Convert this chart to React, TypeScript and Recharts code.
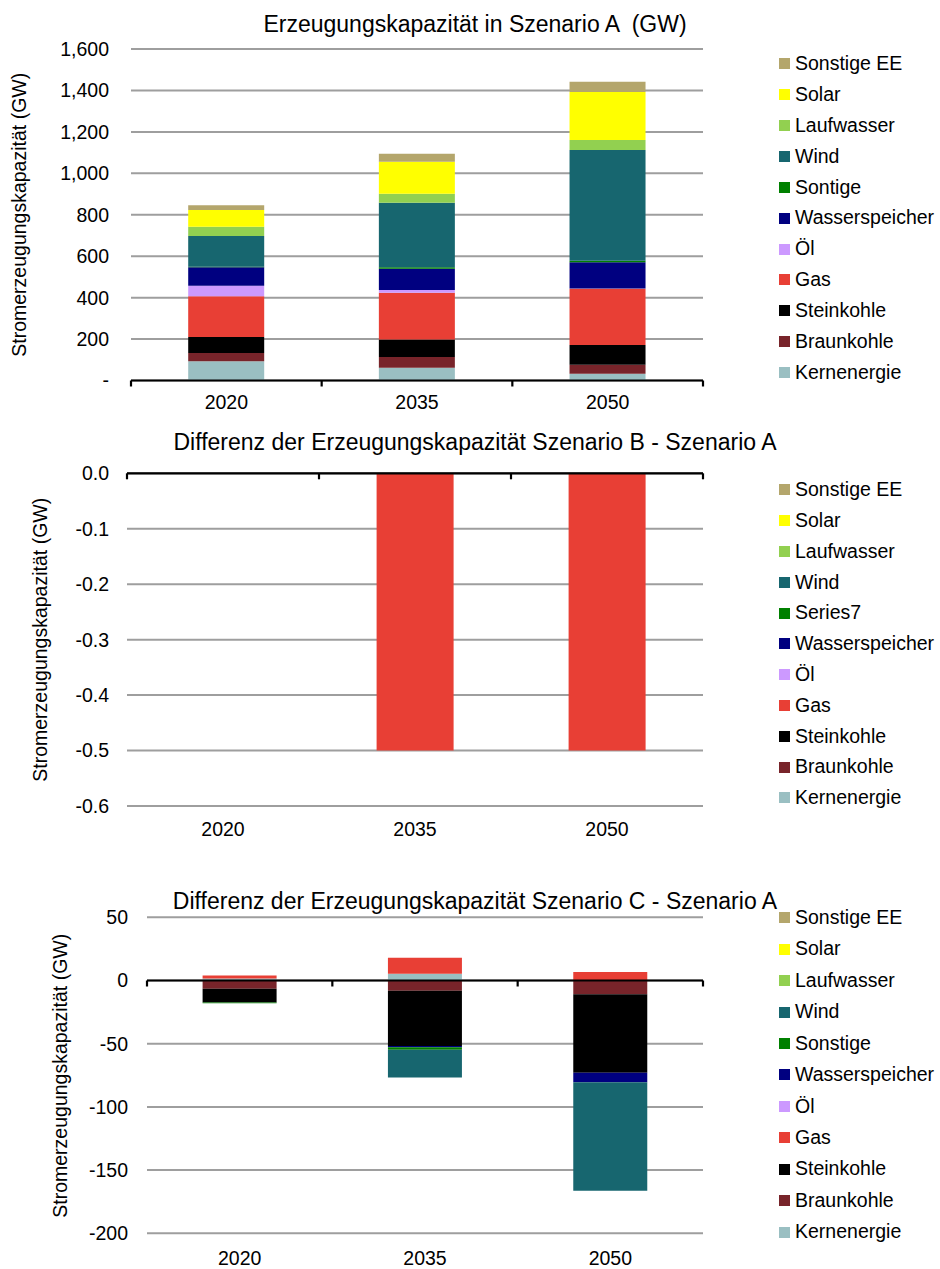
import React from "react";
import { Bar, BarChart, CartesianGrid, ReferenceLine, XAxis, YAxis } from "recharts";

const years = ["2020", "2035", "2050"];

// stacking order, bottom to top
const seriesKeys = ["kern", "braun", "stein", "gas", "oel", "wasser", "sontige", "wind", "lauf", "solar", "sonstEE"];
const seriesNames = ["Kernenergie", "Braunkohle", "Steinkohle", "Gas", "Öl", "Wasserspeicher", "Sontige", "Wind", "Laufwasser", "Solar", "Sonstige EE"];
const seriesColors = ["#9abfc2", "#78242a", "#000000", "#e83f35", "#cc99ff", "#000080", "#008000", "#17666f", "#92d050", "#ffff00", "#b4a66c"];
const otherLabels = ["Sontige", "Series7", "Sonstige"];

// Szenario A, GW
const capA2020 = [93, 40, 77, 197, 50, 90, 2, 149, 44, 81, 23];
const capA2035 = [62, 52, 84, 226, 13, 102, 8, 311, 43, 155, 39];
const capA2050 = [32, 44, 95, 272, 1, 127, 7, 534, 49, 232, 49];

// Szenario B - Szenario A
const diffB2020 = [0, 0, 0, 0, 0, 0, 0, 0, 0, 0, 0];
const diffB2035 = [0, 0, 0, -0.5, 0, 0, 0, 0, 0, 0, 0];
const diffB2050 = [0, 0, 0, -0.5, 0, 0, 0, 0, 0, 0, 0];

// Szenario C - Szenario A
const diffC2020 = [1.5, -6.6, -10.8, 2.4, 0, 0, -0.5, 0, 0, 0, 0];
const diffC2035 = [5.3, -8.2, -43.6, 12.6, 0, -1.1, -1.8, -22.1, 0, 0, 0];
const diffC2050 = [0, -10.8, -62.1, 6.8, 0, -7.6, 0, -85.8, 0, 0, 0];

const ticksA = [0, 200, 400, 600, 800, 1000, 1200, 1400, 1600];
const ticksB = [-0.6, -0.5, -0.4, -0.3, -0.2, -0.1, 0];
const ticksC = [-200, -150, -100, -50, 0, 50];

const FONT = '"Liberation Sans", Arial, sans-serif';
const FS = 19.5;

function buildRows(cols: number[][]) {
  return years.map((year, i) => {
    const row: Record<string, any> = { year };
    seriesKeys.forEach((k, j) => (row[k] = cols[i][j]));
    return row;
  });
}

// zero line with tick marks on the category boundaries
const ZeroAxis = (props: any) => {
  const { x1, x2, y1 } = props;
  const step = (x2 - x1) / years.length;
  return (
    <g>
      <line x1={x1} x2={x2} y1={y1} y2={y1} stroke="#000" strokeWidth={2.2} />
      {Array.from({ length: years.length + 1 }, (_, i) => (
        <line key={i} x1={x1 + i * step} x2={x1 + i * step} y1={y1} y2={y1 + 6} stroke="#000" strokeWidth={2.2} />
      ))}
    </g>
  );
};

type PanelProps = {
  top: number;
  height: number;
  title: string;
  titleY: number;
  rows: Record<string, any>[];
  domain: [number, number];
  ticks: number[];
  fmt: (v: number) => string;
  plotTop: number;
  plotLeft: number;
  xAxisGap: number;
  bottom: number;
  tickGap: number;
  yTitleX: number;
  otherLabel: string;
  legendTop: number;
  legendStep: number;
};

function Panel(p: PanelProps) {
  const plotBottom = p.height - p.bottom - 30;
  const yMid = (p.plotTop + plotBottom) / 2;
  const legend = seriesNames.map((n, i) => ({ name: i === 6 ? p.otherLabel : n, color: seriesColors[i] })).reverse();
  return (
    <div style={{ position: "absolute", left: 0, top: p.top, width: 940, height: p.height }}>
      <div
        style={{ position: "absolute", left: 0, width: 950, top: p.titleY - 11.5, textAlign: "center", fontSize: 23, lineHeight: "23px", whiteSpace: "pre" }}
      >
        {p.title}
      </div>
      <div
        style={{
          position: "absolute",
          left: p.yTitleX - 200,
          top: yMid - FS / 2,
          width: 400,
          textAlign: "center",
          fontSize: FS,
          lineHeight: `${FS}px`,
          transform: "rotate(-90deg)",
          whiteSpace: "nowrap",
        }}
      >
        Stromerzeugungskapazität (GW)
      </div>
      <BarChart
        width={940}
        height={p.height}
        data={p.rows}
        stackOffset="sign"
        barCategoryGap="30%"
        margin={{ top: p.plotTop, right: 237, bottom: p.bottom, left: 0 }}
      >
        <CartesianGrid vertical={false} stroke="#9e9e9e" strokeWidth={2} />
        <XAxis
          dataKey="year"
          height={30}
          axisLine={false}
          tickLine={false}
          tickSize={6}
          tickMargin={p.xAxisGap}
          tick={{ fill: "#000", fontSize: FS, fontFamily: FONT }}
        />
        <YAxis
          width={p.plotLeft}
          domain={p.domain}
          ticks={p.ticks}
          interval={0}
          allowDataOverflow
          axisLine={false}
          tickLine={false}
          tickSize={6}
          tickMargin={p.tickGap}
          tickFormatter={p.fmt}
          tick={{ fill: "#000", fontSize: FS, fontFamily: FONT }}
        />
        {seriesKeys.map((k, i) => (
          <Bar key={k} dataKey={k} stackId="s" fill={seriesColors[i]} isAnimationActive={false} />
        ))}
        <ReferenceLine y={0} shape={ZeroAxis} />
      </BarChart>
      <div style={{ position: "absolute", left: 779, top: p.legendTop - p.top - p.legendStep / 2 }}>
        {legend.map((it) => (
          <div key={it.name} style={{ display: "flex", alignItems: "center", height: p.legendStep }}>
            <span style={{ width: 11, height: 11, background: it.color, marginRight: 5, flex: "none" }} />
            <span style={{ fontSize: FS, lineHeight: `${FS}px`, whiteSpace: "nowrap" }}>{it.name}</span>
          </div>
        ))}
      </div>
    </div>
  );
}

export default function App() {
  return (
    <div style={{ position: "absolute", left: 0, top: 0, width: 940, height: 1269, background: "#fff", fontFamily: FONT, color: "#000" }}>
      <Panel
        top={0}
        height={430}
        title="Erzeugungskapazität in Szenario A  (GW)"
        titleY={24}
        rows={buildRows([capA2020, capA2035, capA2050])}
        domain={[0, 1600]}
        ticks={ticksA}
        fmt={(v) => (v === 0 ? "-" : v.toLocaleString("en-US"))}
        plotTop={49}
        plotLeft={131}
        xAxisGap={8.5}
        bottom={19.5}
        tickGap={16}
        yTitleX={20}
        otherLabel={otherLabels[0]}
        legendTop={63.7}
        legendStep={30.9}
      />
      <Panel
        top={430}
        height={440}
        title="Differenz der Erzeugungskapazität Szenario B - Szenario A"
        titleY={12.5}
        rows={buildRows([diffB2020, diffB2035, diffB2050])}
        domain={[-0.6, 0]}
        ticks={ticksB}
        fmt={(v) => v.toFixed(1)}
        plotTop={43.3}
        plotLeft={127}
        xAxisGap={10.6}
        bottom={34}
        tickGap={12}
        yTitleX={41}
        otherLabel={otherLabels[1]}
        legendTop={490}
        legendStep={30.8}
      />
      <Panel
        top={870}
        height={399}
        title="Differenz der Erzeugungskapazität Szenario C - Szenario A"
        titleY={31}
        rows={buildRows([diffC2020, diffC2035, diffC2050])}
        domain={[-200, 50]}
        ticks={ticksC}
        fmt={(v) => String(v)}
        plotTop={47.3}
        plotLeft={147}
        xAxisGap={12}
        bottom={5.7}
        tickGap={13}
        yTitleX={61}
        otherLabel={otherLabels[2]}
        legendTop={917.7}
        legendStep={31.45}
      />
    </div>
  );
}
